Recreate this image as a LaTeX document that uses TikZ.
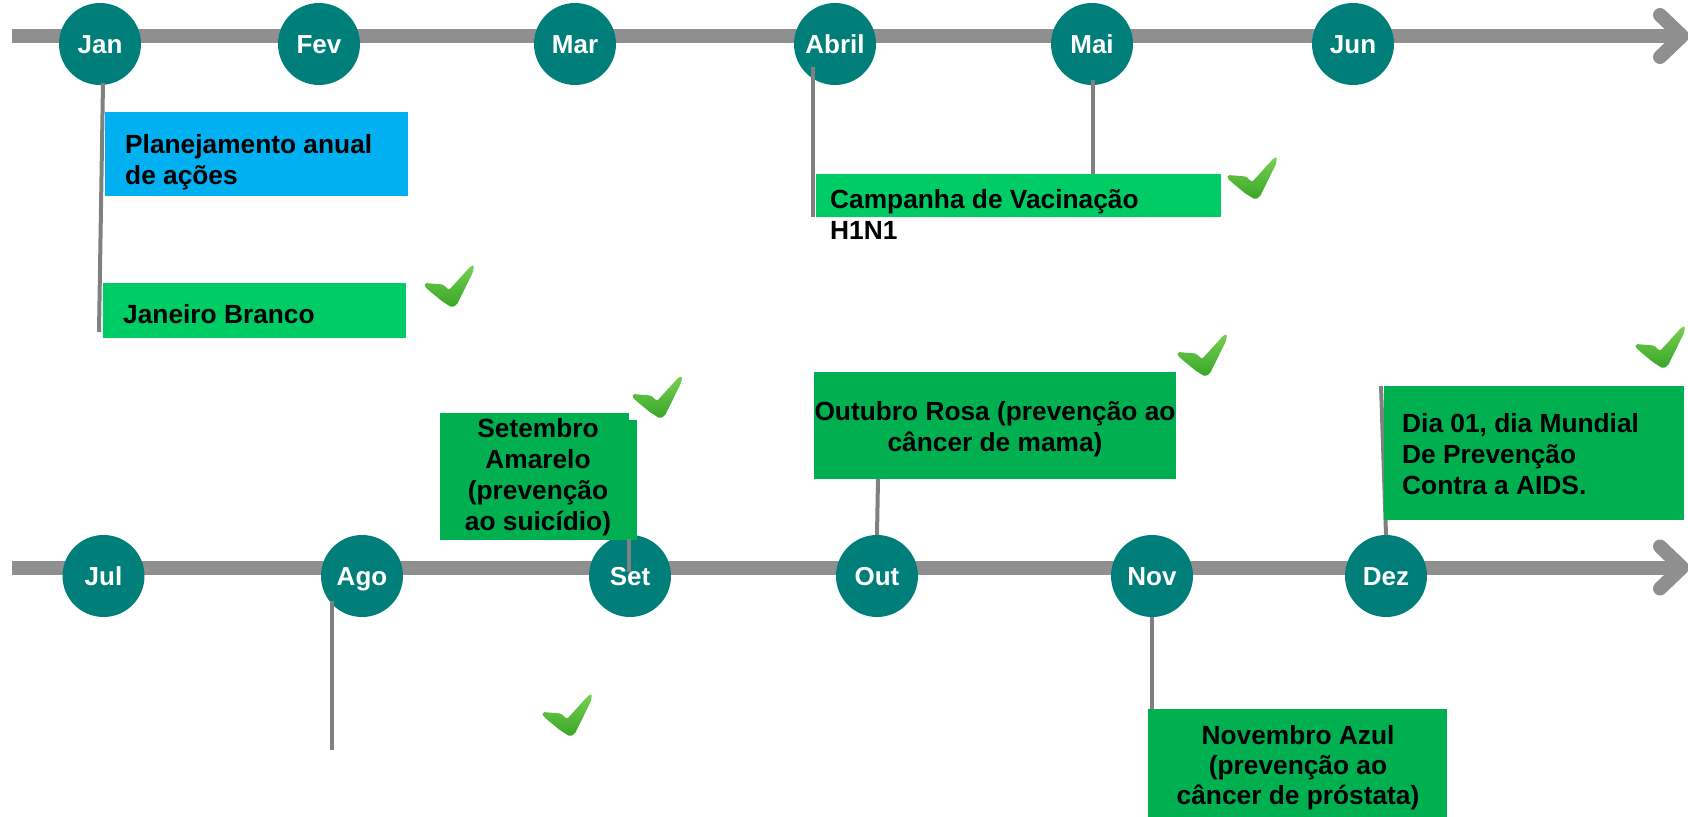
\documentclass[tikz,border=0pt]{standalone}
\usepackage{fontspec}
\setmainfont{Liberation Sans}
\definecolor{axisgray}{RGB}{143,143,143}
\definecolor{stemgray}{RGB}{128,128,128}
\definecolor{mteal}{RGB}{0,127,122}
\definecolor{skyb}{RGB}{0,176,240}
\definecolor{brightg}{RGB}{0,204,102}
\definecolor{darkg}{RGB}{0,176,80}
\definecolor{ckA}{RGB}{120,208,82}
\definecolor{ckB}{RGB}{55,165,40}
\begin{document}
\begin{tikzpicture}[x=1pt,y=-1pt,
  month/.style={circle, fill=mteal, minimum size=82pt, inner sep=0pt, text=white,
    font=\fontsize{26}{30}\selectfont\bfseries, text height=19pt, text depth=0pt},
  timeline/.style={line width=14pt, draw=axisgray},
  chev/.style={line width=14pt, draw=axisgray, line cap=round, line join=round},
  stemline/.style={line width=4pt, draw=stemgray},
  evbox/.style={rectangle, inner sep=0pt, anchor=north west},
  evtext/.style={inner sep=0pt, text=black, font=\fontsize{26.3}{31}\selectfont\bfseries},
  tick/.pic={
    \shade[top color=ckA, bottom color=ckB, rounded corners=1.5pt]
      (-24,-3) -- (-6,-1.5) -- (0,4) -- (21.7,-19.8) -- (25,-20.8) -- (24,-14)
      -- (8,18.5) -- (3,21.5) -- (-7,15.2) -- (-20,4.5) -- (-24.7,0) -- cycle;
  }
]
\useasboundingbox (0,0) rectangle (1688,816);

% axes
\coordinate (a0) at (12,36);
\coordinate (a1) at (1682,36);
\coordinate (c1) at (1660,15);
\coordinate (c2) at (1660,57);
\draw[timeline] (a0) -- (a1);
\draw[chev] (c1) -- (a1) -- (c2);

\coordinate (b0) at (12,567.5);
\coordinate (b1) at (1682,567.5);
\coordinate (d1) at (1660,546.5);
\coordinate (d2) at (1660,588.5);
\draw[timeline] (b0) -- (b1);
\draw[chev] (d1) -- (b1) -- (d2);

% months
\node[month] (jan) at (100,44) {Jan};
\node[month] (fev) at (319,44) {Fev};
\node[month] (mar) at (575,44) {Mar};
\node[month] (abr) at (835,44) {Abril};
\node[month] (mai) at (1092,44) {Mai};
\node[month] (jun) at (1353,44) {Jun};

\node[month] (jul) at (103.5,576) {Jul};
\node[month] (ago) at (362,576) {Ago};
\node[month] (set) at (630,576) {Set};
\node[month] (out) at (877,576) {Out};
\node[month] (nov) at (1152,576) {Nov};
\node[month] (dez) at (1386,576) {Dez};

% boxes
\node[evbox, fill=skyb, minimum width=303pt, minimum height=84pt] (plan) at (105,112) {};
\node[evbox, fill=brightg, minimum width=303pt, minimum height=55pt] (janb) at (103,283) {};
\node[evbox, fill=brightg, minimum width=405pt, minimum height=43pt] (camp) at (816,174) {};
\node[evbox, fill=darkg, minimum width=189pt, minimum height=127pt] (setb) at (440,413) {};
\fill[darkg] (628,420) rectangle (637,540);
\node[evbox, fill=darkg, minimum width=362pt, minimum height=107pt] (outb) at (814,372) {};
\node[evbox, fill=darkg, minimum width=299pt, minimum height=110pt] (novb) at (1148,709) {};

% stems
\coordinate (s1) at (103,83);
\coordinate (s2) at (99,332);
\draw[stemline] (s1) -- (s2);
\coordinate (s3) at (813,67);
\coordinate (s4) at (813,217);
\draw[stemline] (s3) -- (s4);
\draw[stemline] (1093,80) -- (1093,174);
\coordinate (s5) at (878,479);
\draw[stemline] (s5) -- (out.north);
\coordinate (s6) at (629,539);
\coordinate (s7) at (629,572);
\draw[stemline] (s6) -- (s7);
\coordinate (s8) at (332,601);
\coordinate (s9) at (332,750);
\draw[stemline] (s8) -- (s9);
\draw[stemline] (nov.south) -- (nov.south |- novb.north);
\coordinate (s10) at (1381,386);
\draw[stemline] (s10) -- (dez.north);

\node[evbox, fill=darkg, minimum width=300pt, minimum height=134pt] (dezb) at (1384,386) {};

% texts (base anchor = baseline of last line)
\node[evtext, anchor=base west, align=left] (plant) at (125,184) {Planejamento anual\\de ações};
\node[evtext, anchor=base west] (janbt) at (123,323) {Janeiro Branco};
\node[evtext, anchor=base west, align=left] (campt) at (830,239) {Campanha de Vacinação\\H1N1};
\node[evtext, anchor=base, align=center] (setbt) at (538,530) {Setembro\\Amarelo\\(prevenção\\ao suicídio)};
\node[evtext, anchor=base, align=center] (outbt) at (995,451) {Outubro Rosa (prevenção ao\\câncer de mama)};
\node[evtext, anchor=base west, align=left] (dezbt) at (1402,494) {Dia 01, dia Mundial\\De Prevenção\\Contra a AIDS.};
\node[evtext, anchor=base, align=center, font=\fontsize{26.3}{30}\selectfont\bfseries] (novbt) at (1298,804) {Novembro Azul\\(prevenção ao\\câncer de próstata)};

% ticks
\pic at (449,286) {tick};
\pic at (1252,178) {tick};
\pic at (657,397) {tick};
\pic at (1202,355) {tick};
\pic at (1660,347) {tick};
\pic at (567,715) {tick};
\end{tikzpicture}
\end{document}
